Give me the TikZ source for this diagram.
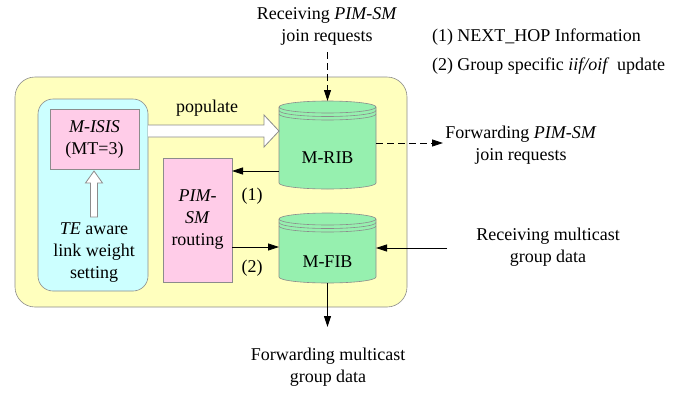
\documentclass[tikz,border=0pt]{standalone}
\usepackage{fontspec}
\setmainfont{Liberation Serif}
\usetikzlibrary{arrows.meta,calc}
\definecolor{yelfill}{RGB}{255,255,190}
\definecolor{cyanfill}{RGB}{204,255,255}
\definecolor{pinkfill}{RGB}{255,204,232}
\definecolor{greenfill}{RGB}{150,240,175}
\definecolor{edgegray}{RGB}{140,140,140}
\tikzset{
  every node/.style={font=\fontsize{18}{22}\selectfont, inner sep=0pt, outer sep=0pt},
  txt/.style={align=center},
  panel/.style={draw=edgegray, line width=0.6pt},
  frame/.style={rectangle, minimum width=#1},
  arr/.style={line width=0.8pt, -{Triangle[length=11pt,width=7pt]}},
  darr/.style={arr, dash pattern=on 7pt off 4pt},
  hollow/.style={draw=edgegray, fill=white, line width=0.8pt},
  dbstyle/.style={draw=edgegray, fill=greenfill, line width=0.6pt},
  dbline/.style={draw=edgegray, line width=0.6pt}
}
\newcommand\dbdraw[4]{%
  \pgfmathsetmacro\dbrx{(#3-#1)/2}%
  \draw[dbstyle] (#1,#2+6) -- (#1,#4-6) arc[start angle=180,end angle=360,x radius=\dbrx pt,y radius=6pt] -- (#3,#2+6) arc[start angle=0,end angle=180,x radius=\dbrx pt,y radius=6pt] -- cycle;
  \draw[dbline] (#1,#2+6) arc[start angle=180,end angle=360,x radius=\dbrx pt,y radius=6pt];
  \draw[dbline] (#1,#2+9.5) arc[start angle=180,end angle=360,x radius=\dbrx pt,y radius=6pt];
  \draw[dbline] (#1,#2+13) arc[start angle=180,end angle=360,x radius=\dbrx pt,y radius=6pt];
}
\begin{document}
\begin{tikzpicture}[x=1pt,y=-1pt]
\useasboundingbox (0,0) rectangle (692,394);
% outer yellow box
\node[panel, fill=yelfill, rounded corners=20pt, minimum width=392pt, minimum height=230pt] (outer) at (211,192) {};
% cyan TE box
\node[panel, fill=cyanfill, rounded corners=15pt, minimum width=110pt, minimum height=192pt] (te) at (93,195) {};
% M-ISIS
\node[panel, fill=pinkfill, minimum width=89pt, minimum height=60pt, txt] (misis) at (94.5,139) {\textit{M-ISIS}\\(MT=3)};
% TE text
\node[txt] (tetext) at (94,253) {\textit{TE} aware\\link weight\\setting};
% hollow up arrow
\draw[hollow] (90.5,217) -- (90.5,183) -- (85.5,183) -- (94,171) -- (102.5,183) -- (97.5,183) -- (97.5,217) -- cycle;
% PIM-SM
\node[panel, fill=pinkfill, minimum width=69pt, minimum height=124pt, txt] (pim) at (197.5,220) {\textit{PIM-}\\\textit{SM}\\routing};
% cylinders
\dbdraw{279}{101}{376}{189}
\node[minimum width=97pt, minimum height=88pt] (rib) at (327.5,145) {};
\node (ribtext) at (327.5,158) {M-RIB};
\dbdraw{279}{213}{376}{283}
\node[minimum width=97pt, minimum height=70pt] (fib) at (327.5,248) {};
\node (fibtext) at (327.5,262) {M-FIB};
% populate arrow
\draw[hollow] (148,125) -- (264,125) -- (264,115) -- (279,131) -- (264,147) -- (264,137) -- (148,137);
\node (poplabel) at (207,108) {populate};
% arrows between PIM and bases
\draw[arr] ($(rib.west)+(0,26)$) coordinate (r1) -- (r1 -| pim.east);
\node (l1) at (252,196) {(1)};
\draw[arr] ($(pim.east)+(0,27)$) coordinate (p2) -- (p2 -| fib.west);
\node (l2) at (252,268) {(2)};
% external texts
\node[txt] (recvjoin) at (327,26) {Receiving \textit{PIM-SM}\\join requests};
\node[txt] (fwdjoin) at (521,145) {Forwarding \textit{PIM-SM}\\join requests};
\node[txt] (recvmc) at (548,247) {Receiving multicast\\group data};
\node[txt] (fwdmc) at (328,367) {Forwarding multicast\\group data};
\node[anchor=west] (leg1) at (432,37) {(1) NEXT\_HOP Information};
\node[anchor=west] (leg2) at (432,66) {(2) Group specific \textit{iif/oif}\, update};
% connectors
\coordinate (jtop) at (327.5,52);
\draw[darr] (jtop) -- (rib.north);
\coordinate (jout) at (443,143);
\draw[darr] (rib.east |- jout) -- (jout);
\coordinate (min) at (447,248);
\draw[arr] (min) -- (fib.east);
\coordinate (mout) at (327.5,327);
\draw[arr] (fib.south) -- (mout);
\end{tikzpicture}
\end{document}
